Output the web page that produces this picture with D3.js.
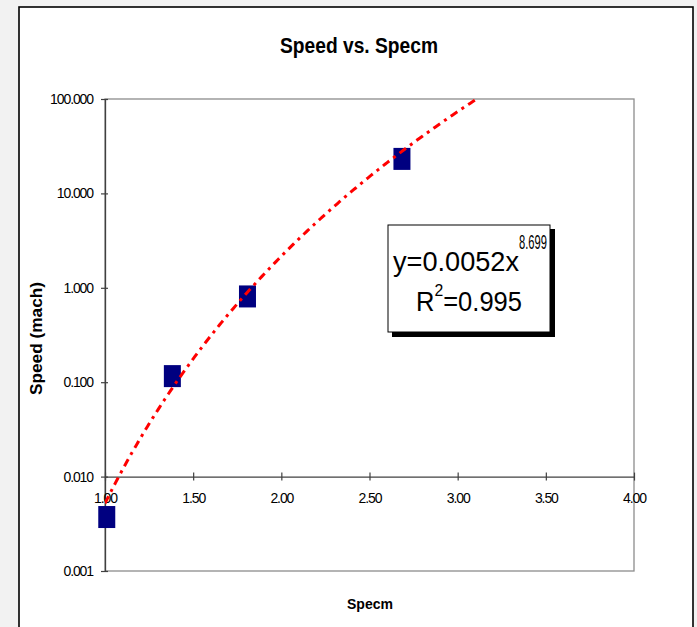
<!DOCTYPE html>
<html><head><meta charset="utf-8">
<script src="https://cdn.jsdelivr.net/npm/d3@7"></script>
<style>
html,body{margin:0;padding:0;background:#f2f2f2;}
svg{display:block;}
text{font-family:"Liberation Sans",Arial,sans-serif;}
</style></head>
<body>
<svg id="c" width="697" height="627"></svg>
<script>
// Data
const specm = [1.01, 1.382, 1.808, 2.684];
const speed = [0.00373, 0.116, 0.81, 23.2];
const xTicks = [1.0, 1.5, 2.0, 2.5, 3.0, 3.5, 4.0];
const yTicks = [0.001, 0.01, 0.1, 1, 10, 100];
const fitCoef = 0.0052, fitExp = 8.699, fitR2 = 0.995;
const titleText = "Speed vs. Specm", xTitle = "Specm", yTitle = "Speed (mach)";

const svg = d3.select("#c");
// chart area frame
svg.append("rect").attr("x",19).attr("y",7).attr("width",674).attr("height",640)
  .attr("fill","#fff").attr("stroke","#000").attr("stroke-width",1.6);

const L=105,R=634,T=99,B=571;
const x = d3.scaleLinear().domain([1,4]).range([L,R]);
const y = d3.scaleLog().domain([0.001,100]).range([B,T]);

// plot area border (gray)
svg.append("rect").attr("x",L).attr("y",T).attr("width",R-L).attr("height",B-T)
  .attr("fill","#fff").attr("stroke","#8c8c8c").attr("stroke-width",1.3);

// y axis
const yAxis = d3.axisLeft(y).tickValues(yTicks).tickFormat(d3.format(".3f")).tickSize(0).tickPadding(8);
const gy = svg.append("g").attr("transform",`translate(${L},0)`).call(yAxis);
gy.select(".domain").attr("stroke","#404040").attr("stroke-width",1.3);
gy.selectAll(".tick line").remove();
gy.selectAll(".tick").append("line").attr("x1",-4).attr("x2",3).attr("stroke","#404040").attr("stroke-width",1.2);
gy.selectAll(".tick text").attr("font-size",14).attr("fill","#000").attr("letter-spacing",-1.1).attr("x",-12);

// x axis crossing at 0.010
const xAxis = d3.axisBottom(x).tickValues(xTicks).tickFormat(d3.format(".2f")).tickSize(0).tickPadding(8);
const gx = svg.append("g").attr("transform",`translate(0,${y(0.01)})`).call(xAxis);
gx.select(".domain").attr("stroke","#404040").attr("stroke-width",1.3);
gx.selectAll(".tick line").remove();
gx.selectAll(".tick").append("line").attr("y1",-4).attr("y2",4).attr("stroke","#404040").attr("stroke-width",1.2);
gx.selectAll(".tick text").attr("font-size",14).attr("fill","#000").attr("letter-spacing",-1.1).attr("y",16);

// markers
svg.append("g").selectAll("rect").data(specm).join("rect")
  .attr("x",(d)=>x(d)-8.5).attr("y",(d,i)=>y(speed[i])-11)
  .attr("width",17).attr("height",22).attr("fill","#000080");

// trendline y = a x^b
svg.append("clipPath").attr("id","cp").append("rect").attr("x",L).attr("y",T).attr("width",R-L).attr("height",B-T);
const xs = d3.range(1.0, 3.2, 0.01);
svg.append("path").datum(xs).attr("clip-path","url(#cp)")
  .attr("d", d3.line().x(d=>x(d)).y(d=>y(fitCoef*Math.pow(d,fitExp))))
  .attr("fill","none").attr("stroke","#ff0000").attr("stroke-width",3)
  .attr("stroke-dasharray","8,5,3,5");

// equation box
svg.append("rect").attr("x",392).attr("y",229).attr("width",163).attr("height",108).attr("fill","#000");
svg.append("rect").attr("x",388).attr("y",225).attr("width",162).attr("height",107).attr("fill","#fff").attr("stroke","#000").attr("stroke-width",1);
svg.append("text").attr("x",393).attr("y",271).attr("font-size",27.5)
  .attr("textLength",126).attr("lengthAdjust","spacingAndGlyphs").attr("fill","#000").text("y=0.0052x");
svg.append("text").attr("x",519).attr("y",249).attr("font-size",21)
  .attr("textLength",28).attr("lengthAdjust","spacingAndGlyphs").attr("fill","#000").text(String(fitExp));
const r2 = svg.append("text").attr("x",416).attr("y",311).attr("font-size",27.5)
  .attr("textLength",106).attr("lengthAdjust","spacingAndGlyphs").attr("fill","#000");
r2.append("tspan").text("R");
r2.append("tspan").attr("font-size",17).attr("dy",-15).text("2");
r2.append("tspan").attr("dy",15).text("=" + fitR2.toFixed(3));

// titles
svg.append("text").attr("x",280).attr("y",53).attr("font-size",22)
  .attr("font-weight","bold").attr("textLength",158).attr("lengthAdjust","spacingAndGlyphs").text(titleText);
svg.append("text").attr("x",347).attr("y",609).attr("font-size",15)
  .attr("font-weight","bold").attr("textLength",46).attr("lengthAdjust","spacingAndGlyphs").text(xTitle);
svg.append("text").attr("transform","translate(42,395) rotate(-90)").attr("font-size",16)
  .attr("font-weight","bold").attr("textLength",113).attr("lengthAdjust","spacingAndGlyphs").text(yTitle);
</script>
</body></html>
